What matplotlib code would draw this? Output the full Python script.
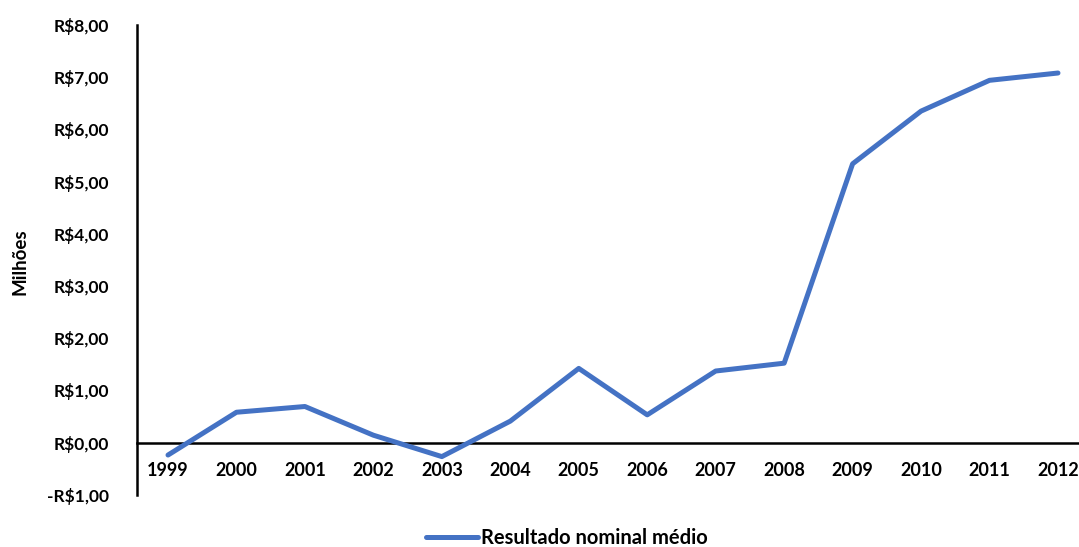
import matplotlib
matplotlib.use("Agg")
import matplotlib.pyplot as plt
from matplotlib.ticker import FuncFormatter, FixedLocator

years = ["1999", "2000", "2001", "2002", "2003", "2004", "2005", "2006",
         "2007", "2008", "2009", "2010", "2011", "2012"]
resultado = [-0.24, 0.58, 0.69, 0.14, -0.27, 0.41, 1.42, 0.53,
             1.37, 1.52, 5.34, 6.35, 6.94, 7.08]
y_ticks = [-1, 0, 1, 2, 3, 4, 5, 6, 7, 8]
series_name = "Resultado nominal médio"

plt.rcParams['font.family'] = ['Lato', 'DejaVu Sans']

fig = plt.figure(figsize=(10.79, 5.47), dpi=100)
ax = fig.add_axes([137/1079, (547-494.7)/547, (1079-137)/1079, (494.7-25)/547])

x = list(range(len(years)))
line, = ax.plot(x, resultado, color="#4472C4", linewidth=3.6,
                solid_capstyle="round", solid_joinstyle="round",
                label=series_name, zorder=3)

ax.set_xlim(-0.453, 13.307)
ax.set_ylim(-1, 8)
ax.yaxis.set_major_locator(FixedLocator(y_ticks))

def fmt(v, pos):
    s = f"R${abs(v):.2f}".replace(".", ",")
    return "-" + s if v < 0 else s
ax.yaxis.set_major_formatter(FuncFormatter(fmt))

ax.set_xticks(x)
ax.set_xticklabels(years)

for s in ["top", "right"]:
    ax.spines[s].set_visible(False)
ax.spines["bottom"].set_position(("data", 0))
ax.spines["bottom"].set_linewidth(1.8)
ax.spines["left"].set_linewidth(1.8)
ax.tick_params(axis="x", length=0, pad=14, labelsize=13)
ax.tick_params(axis="y", length=0, pad=20, labelsize=12.5)
for lbl in ax.get_xticklabels() + ax.get_yticklabels():
    lbl.set_fontweight("bold")

fig.text(20/1079, 1 - 262/547, "Milhões", rotation=90, fontsize=13.5,
         fontweight="bold", ha="center", va="center")

leg = fig.legend(handles=[line], loc="center", bbox_to_anchor=(567/1079, 9/547),
                 frameon=False, prop={"weight": "bold", "size": 14.5},
                 handlelength=2.6, handletextpad=0.15)

fig.savefig("out.png", dpi=100)
